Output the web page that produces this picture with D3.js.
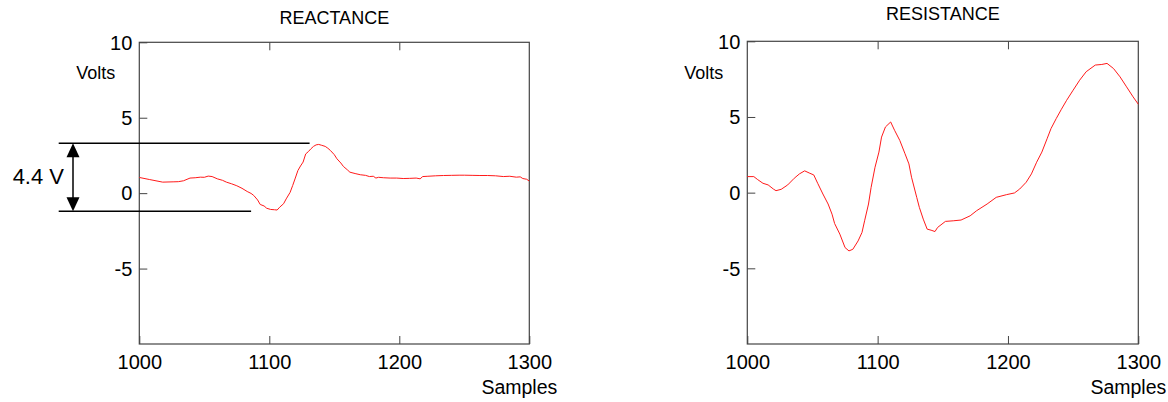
<!DOCTYPE html>
<html>
<head>
<meta charset="utf-8">
<script src="https://cdn.jsdelivr.net/npm/d3@7"></script>
<style>
  html, body { margin: 0; padding: 0; background: #fff; }
  svg { display: block; }
  text { font-family: "Liberation Sans", Arial, sans-serif; fill: #000; }
</style>
</head>
<body>
<svg id="chart" width="1168" height="402"></svg>
<script>
// ---------------- DATA ----------------
const xTicks = [1000, 1100, 1200, 1300];
const yTicks = [10, 5, 0, -5];
const xDomain = [1000, 1300];
const yDomain = [-10, 10];

const reactanceSamples = [1000,1008,1018,1026,1030,1034,1039,1043,1047,1050,1053,1056,1060,1064,1067,1071,1075,1079,1083,1086,1088,1091,1093,1096,1098,1101,1104,1106,1108,1111,1113,1116,1118,1120,1122,1124,1126,1128,1130,1132,1134,1136,1138,1140,1143,1145,1147,1150,1152,1155,1157,1160,1162,1166,1170,1174,1177,1180,1182,1184,1188,1193,1198,1203,1208,1213,1216,1218,1222,1228,1234,1240,1246,1250,1256,1262,1268,1274,1280,1285,1290,1293,1295,1298,1300];
const reactanceVolts   = [1.04,0.9,0.73,0.75,0.76,0.82,1.0,1.02,1.06,1.05,1.13,1.1,0.95,0.85,0.73,0.62,0.49,0.32,0.11,-0.02,-0.15,-0.45,-0.75,-0.85,-1.0,-1.08,-1.1,-1.12,-0.93,-0.7,-0.38,0.05,0.51,1.0,1.5,1.8,2.06,2.6,2.75,2.94,3.1,3.2,3.23,3.18,3.1,2.98,2.83,2.55,2.28,2.0,1.77,1.55,1.39,1.3,1.22,1.18,1.1,1.12,1.0,1.05,1.02,1.0,1.0,0.97,0.98,1.0,0.95,1.1,1.12,1.15,1.17,1.18,1.19,1.19,1.18,1.17,1.17,1.15,1.1,1.12,1.06,1.08,0.97,0.92,0.8];

const resistanceSamples = [1000,1005,1008,1012,1016,1020,1022,1026,1031,1036,1040,1044,1048,1051,1054,1058,1062,1065,1067,1071,1075,1078,1081,1085,1088,1090,1093,1095,1098,1101,1103,1106,1110,1113,1117,1121,1124,1126,1130,1132,1135,1138,1141,1144,1146,1152,1158,1164,1171,1176,1184,1191,1199,1205,1209,1214,1218,1222,1226,1230,1233,1237,1241,1245,1250,1255,1260,1267,1272,1276,1281,1286,1291,1296,1300];
const resistanceVolts   = [1.06,1.06,0.86,0.62,0.51,0.24,0.13,0.22,0.51,0.95,1.24,1.44,1.28,1.17,0.62,-0.09,-0.75,-1.42,-2.04,-2.74,-3.63,-3.85,-3.74,-3.19,-2.63,-1.86,-0.75,0.35,1.68,2.68,3.67,4.34,4.67,4.12,3.45,2.57,1.9,1.02,-0.31,-0.97,-1.75,-2.41,-2.48,-2.57,-2.3,-1.9,-1.86,-1.81,-1.53,-1.19,-0.75,-0.31,-0.13,-0.02,0.24,0.69,1.24,2.01,2.68,3.56,4.23,4.89,5.51,6.1,6.77,7.43,7.99,8.43,8.47,8.54,8.2,7.65,6.99,6.33,5.84];

// Annotation (reactance peak-to-peak)
const annotationLabel = "4.4 V";
const annotationLevels = [3.3, -1.2];      // volts: top, bottom
const annotationLineEnds = [1131, 1086];   // samples where horizontal lines end
const annotationLineStart = 938;           // sample where lines start (left of axis)
const annotationArrowAt = 949;             // sample of vertical arrow

// ---------------- LAYOUT ----------------
const panels = [
  { title: "REACTANCE",  samples: reactanceSamples,  volts: reactanceVolts,
    left: 139.3, right: 529.3, top: 42.3, bottom: 344, titleY: 24, annotate: true },
  { title: "RESISTANCE", samples: resistanceSamples, volts: resistanceVolts,
    left: 747.3, right: 1138.3, top: 41.3, bottom: 344, titleY: 20, annotate: false }
];

const svg = d3.select("#chart");
const frameColor = "#444";
const plainFormat = d => String(d);

panels.forEach(p => {
  const x = d3.scaleLinear().domain(xDomain).range([p.left, p.right]);
  const y = d3.scaleLinear().domain(yDomain).range([p.bottom, p.top]);
  const g = svg.append("g");

  const bx = g.append("g").attr("transform", `translate(0,${p.bottom})`)
    .call(d3.axisBottom(x).tickValues(xTicks).tickSizeInner(-8).tickSizeOuter(0).tickPadding(11).tickFormat(plainFormat));
  const tx = g.append("g").attr("transform", `translate(0,${p.top})`)
    .call(d3.axisTop(x).tickValues(xTicks.slice(1, -1)).tickSizeInner(-8).tickSizeOuter(0).tickFormat(""));
  const ly = g.append("g").attr("transform", `translate(${p.left},0)`)
    .call(d3.axisLeft(y).tickValues(yTicks).tickSizeInner(-8).tickSizeOuter(0).tickPadding(7).tickFormat(plainFormat));

  [bx, tx, ly].forEach(a => {
    a.select(".domain").remove();
    a.selectAll(".tick line").attr("stroke", frameColor).attr("stroke-width", 1);
    a.selectAll(".tick text").attr("fill", "#000")
      .style("font-family", '"Liberation Sans", Arial, sans-serif').style("font-size", "20px");
  });
  ly.selectAll(".tick text").attr("dy", "0.34em");

  g.append("rect")
    .attr("x", p.left).attr("y", p.top)
    .attr("width", p.right - p.left).attr("height", p.bottom - p.top)
    .attr("fill", "none").attr("stroke", frameColor).attr("stroke-width", 1.2);

  const data = p.samples.map((s, i) => [s, p.volts[i]]);
  g.append("path")
    .datum(data)
    .attr("fill", "none")
    .attr("stroke", "#ff1a1a")
    .attr("stroke-width", 1)
    .attr("stroke-linejoin", "round")
    .attr("d", d3.line().x(d => x(d[0])).y(d => y(d[1])));

  g.append("text")
    .attr("x", (p.left + p.right) / 2).attr("y", p.titleY)
    .attr("text-anchor", "middle").style("font-size", "18px")
    .text(p.title);

  g.append("text")
    .attr("x", p.left - 24).attr("y", 78.5)
    .attr("text-anchor", "end").style("font-size", "18px")
    .text("Volts");
  g.append("text")
    .attr("x", p.right + 28).attr("y", 394)
    .attr("text-anchor", "end").style("font-size", "19.5px")
    .text("Samples");

  if (p.annotate) {
    const a = g.append("g");
    annotationLevels.forEach((lv, i) => {
      a.append("line")
        .attr("x1", x(annotationLineStart)).attr("x2", x(annotationLineEnds[i]))
        .attr("y1", y(lv)).attr("y2", y(lv))
        .attr("stroke", "#000").attr("stroke-width", 1.5);
    });
    const ax = x(annotationArrowAt);
    const yt = y(annotationLevels[0]), yb = y(annotationLevels[1]);
    const head = 14, hw = 6.5;
    a.append("line")
      .attr("x1", ax).attr("x2", ax).attr("y1", yt + head - 1).attr("y2", yb - head + 1)
      .attr("stroke", "#000").attr("stroke-width", 1.5);
    a.append("path")
      .attr("d", `M${ax},${yt} L${ax - hw},${yt + head} L${ax + hw},${yt + head} Z`)
      .attr("fill", "#000");
    a.append("path")
      .attr("d", `M${ax},${yb} L${ax - hw},${yb - head} L${ax + hw},${yb - head} Z`)
      .attr("fill", "#000");
    a.append("text")
      .attr("x", ax - 9).attr("y", (yt + yb) / 2 + 6.5)
      .attr("text-anchor", "end").style("font-size", "22px")
      .text(annotationLabel);
  }
});
</script>
</body>
</html>
